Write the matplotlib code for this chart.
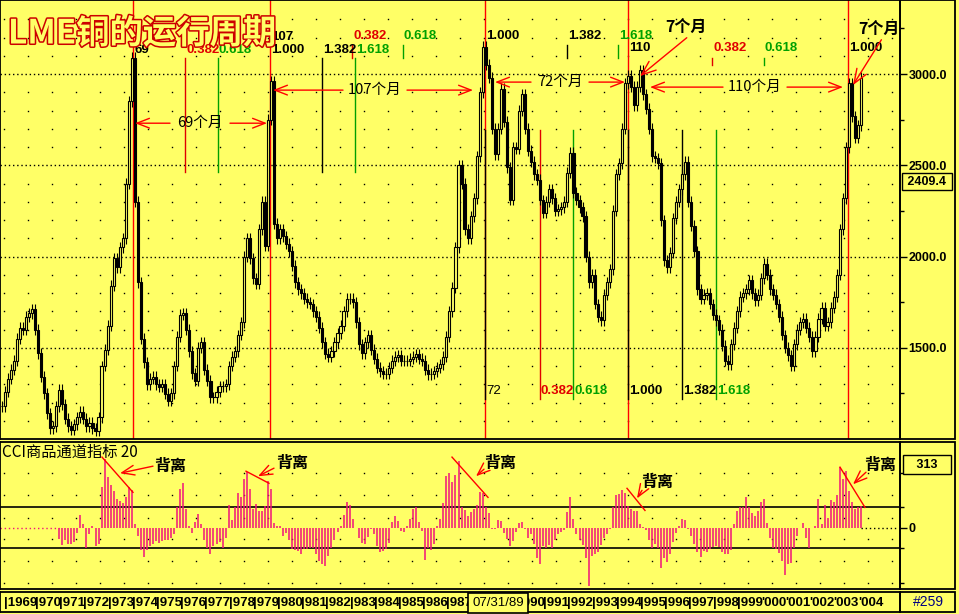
import numpy as np
import matplotlib
matplotlib.use('Agg')
import matplotlib.pyplot as plt
from matplotlib import patheffects as pe
from matplotlib.patches import Rectangle
from matplotlib.transforms import blended_transform_factory

plt.rcParams['font.family'] = ['Noto Sans CJK SC', 'DejaVu Sans']
NUM = ['Liberation Sans', 'DejaVu Sans']

BG = '#FFFF66'
PINK = '#F0147A'
FRED = '#E00000'
FGREEN = '#00A000'

# ---- data: LME copper, one bar every 1/8 year from 1968.625 ----
start = 1968.625
step = 1 / 8
close = [1180, 1260, 1330, 1380, 1430, 1550, 1610, 1600,
         1670, 1690, 1710, 1600, 1470, 1340, 1250, 1140,
         1060, 1070, 1180, 1270, 1190, 1110, 1070, 1050,
         1080, 1120, 1150, 1110, 1070, 1090, 1060, 1045,
         1120, 1400, 1490, 1620, 1840, 1990, 1940, 2050,
         2100, 2400, 2850, 3090, 2300, 1860, 1550, 1420,
         1300, 1330, 1340, 1300, 1285, 1300, 1247, 1210,
         1250, 1400, 1560, 1680, 1690, 1600, 1480, 1360,
         1320, 1500, 1530, 1380, 1320, 1230, 1230, 1260,
         1290, 1290, 1300, 1400, 1450, 1480, 1570, 1640,
         2000, 2100, 1990, 1880, 1850, 2150, 2300, 2060,
         2750, 2960, 2180, 2100, 2150, 2110, 2070, 2030,
         1950, 1860, 1820, 1800, 1770, 1750, 1740, 1700,
         1670, 1610, 1530, 1467, 1450, 1480, 1530, 1580,
         1620, 1700, 1770, 1770, 1750, 1640, 1520, 1470,
         1530, 1570, 1490, 1440, 1390, 1370, 1357, 1357,
         1390, 1430, 1450, 1460, 1430, 1430, 1430, 1440,
         1450, 1465, 1440, 1430, 1380, 1355, 1357, 1370,
         1390, 1410, 1450, 1560, 1700, 1830, 2050, 2500,
         2400, 2150, 2100, 2220, 2320, 2550, 2900, 3150,
         3050, 2980, 2700, 2560, 2700, 2920, 2740, 2490,
         2310, 2600, 2590, 2800, 2890, 2700, 2580, 2520,
         2450, 2420, 2310, 2240, 2300, 2370, 2320, 2250,
         2260, 2270, 2300, 2460, 2570, 2350, 2310, 2270,
         2220, 2000, 1860, 1900, 1740, 1670, 1650, 1790,
         1860, 1930, 2250, 2450, 2510, 2700, 2950, 2990,
         2930, 2830, 2930, 3020, 2890, 2810, 2700, 2550,
         2540, 2510, 2200, 1980, 1940, 2020, 2210, 2300,
         2370, 2450, 2520, 2300, 2170, 2030, 1820, 1770,
         1790, 1800, 1740, 1680, 1650, 1600, 1510, 1430,
         1410, 1520, 1610, 1700, 1780, 1800, 1820, 1870,
         1800, 1760, 1790, 1880, 1960, 1900, 1820, 1790,
         1740, 1670, 1570, 1500, 1460, 1400, 1520, 1600,
         1640, 1660, 1610, 1560, 1480, 1560, 1660, 1720,
         1620, 1640, 1720, 1780, 1900, 2150, 2320, 2600,
         2950, 2770, 2650, 2720, 2980]

# CCI(20): first 19 bars have no value
cci = [np.nan] * 19 + [
    -58, -85, -60, -80, -83, -70, -25, 60, 20, -100, -30, 10, -90, -80,
    200, 340, 250, 210, 180, 140, 130, 120, 150, 200, 185, 20, -40, -110,
    -145, -110, -90, -80, -67, -75, -67, -60, -60, -50, -30, 100, 190, 220,
    90, 10, -25, 30, 67, 20, -60, -100, -133, -92, -80, -70, -100, -50,
    112, 40, 100, 170, 150, 240, 275, 190, 92, 117, 83, 80, 108, 233,
    190, 25, 10, 8, -40, -25, -60, -108, -110, -117, -130, -105, -105, -100,
    -100, -133, -165, -180, -192, -142, -100, -60, -20, 10, 60, 128, 110, 42,
    0, -50, -75, -80, -45, -5, -30, -90, -120, -118, -105, -75, 30, 58,
    35, -15, -20, 10, 45, 90, 100, 30, -17, -160, -100, -110, -80, 10,
    45, 120, 258, 270, 225, 260, 333, 100, 85, 58, 78, 90, 110, 178,
    170, 100, 70, -5, -5, 40, 35, -25, -58, -90, -65, -20, 25, 30,
    -8, -50, -30, -80, -150, -183, -92, -100, -85, -100, -60, -30, -20, -10,
    75, 150, 42, -30, -60, -85, -150, -290, -140, -130, -120, -85, -50, -30,
    -8, 100, 160, 165, 185, 170, 108, 92, 80, 80, 17, 5, -10, -60,
    -100, -80, -100, -200, -150, -170, -133, -70, -25, 10, 45, 40, -5, -40,
    -80, -120, -145, -115, -120, -108, -95, -92, -95, -120, -130, -130, -110, 20,
    80, 100, 100, 150, 100, 70, 58, 80, 125, 140, 25, -50, -100, -105,
    -125, -165, -233, -183, -175, -100, -42, 0, 25, -50, -100, 0, 8, 140,
    17, 110, 50, 135, 125, 160, 300, 240, 283, 180, 125, 90, 100, 108]

cycle_tops = [1974.05, 1979.71, 1988.60, 1994.50, 2003.60]
fib_ratios = [0.382, 0.618, 1.0, 1.382, 1.618]

t = start + step * np.arange(len(close))
close = np.array(close, dtype=float)
opn = np.r_[close[0], close[:-1]]
cci = np.array(cci, dtype=float)


# reference pixel -> data helpers (annotations only)
def tx(x):
    return 1970 + (x - 35) / 24.2


def py(y):
    return 3000 - (y - 74) / 0.182


def cy(y):
    return (527 - y) * 5


def fib_color(r):
    return {0.382: FRED, 0.618: FGREEN, 1.618: FGREEN}.get(r, 'black')


W, H = 959, 614
fig = plt.figure(figsize=(W / 100, H / 100), dpi=100, facecolor=BG)


def fax(x0, y0, x1, y1):
    a = fig.add_axes([x0 / W, 1 - y1 / H, (x1 - x0) / W, (y1 - y0) / H])
    a.set_facecolor(BG)
    for s in a.spines.values():
        s.set_linewidth(1.3)
    return a


ax = fax(0, 0, 900, 439)
cax = fax(0, 442, 900, 589)
sax = fax(0, 592, 900, 612)
xlim = (tx(0), tx(900))

# ---------------- price panel ----------------
ax.set_xlim(*xlim)
ax.set_ylim(1000, 3406)
cols = np.arange(tx(4), xlim[1], 24 / 24.2)
rows = [p for p in range(1100, 3400, 100) if p % 500]
gx, gy = np.meshgrid(cols, rows)
ax.plot(gx.ravel(), gy.ravel(), ls='none', marker='s', ms=1.0, mew=0, color='black', zorder=0)
for p in [1500, 2000, 2500, 3000]:
    ax.axhline(p, color='black', ls=(0, (1, 2)), lw=1, zorder=0)

for d in cycle_tops:
    ax.axvline(d, color='red', lw=1, zorder=1)

wick = 30
hi = np.maximum(opn, close) + wick
lo = np.minimum(opn, close) - wick
ax.vlines(t, lo, hi, color='black', lw=0.8, zorder=3)
up = close >= opn
ax.bar(t[up], (close - opn)[up], bottom=opn[up], width=step * 0.7,
       color=BG, edgecolor='black', lw=0.8, zorder=4)
ax.bar(t[~up], (opn - close)[~up], bottom=close[~up], width=step * 0.7,
       color='black', edgecolor='black', lw=0.8, zorder=4)

ax.set_xticks([])
ax.yaxis.tick_right()
ax.set_yticks([1500, 2000, 2500, 3000])
ax.set_yticklabels(['%.1f' % v for v in [1500, 2000, 2500, 3000]],
                   fontfamily=NUM, fontweight='bold', fontsize=9)
ax.set_yticks([1250, 1750, 2250, 2750, 3250], minor=True)
ax.tick_params(axis='y', which='major', length=5, width=1, pad=1)
ax.tick_params(axis='y', which='minor', length=3, width=1)

numkw = dict(fontfamily=NUM, fontweight='bold', fontsize=9.5, va='center', ha='left', zorder=6)
dx = 1 / 24.2

# Fibonacci time set A: 1974 -> 1979
b, s = cycle_tops[0], cycle_tops[1] - cycle_tops[0]
for r in [0.382, 0.618, 1.382, 1.618]:
    ax.plot([b + r * s] * 2, [py(58), py(172)], color=fib_color(r), lw=1, zorder=2)
for r in fib_ratios:
    ax.text(b + r * s + dx, py(50), '%.3f' % r, color=fib_color(r), **numkw)
ax.text(b + dx, py(50), '69', color='black', **numkw)
ax.text(b + s + dx, py(37), '107', color='black', **numkw)

# set B: 1979 -> 1988
b, s = cycle_tops[1], cycle_tops[2] - cycle_tops[1]
for r in [0.382, 0.618, 1.382, 1.618]:
    ax.plot([b + r * s] * 2, [py(45), py(58)], color=fib_color(r), lw=1, zorder=2)
for r in fib_ratios:
    ax.text(b + r * s + dx, py(36), '%.3f' % r, color=fib_color(r), **numkw)

# set C: 1988 -> 1994 (lower)
b, s = cycle_tops[2], cycle_tops[3] - cycle_tops[2]
for r in [0.0] + fib_ratios:
    ax.plot([b + r * s] * 2, [py(130), py(398)], color=fib_color(r), lw=1, zorder=2)
    lab = '72' if r == 0 else '%.3f' % r
    ax.text(b + r * s + dx, py(390), lab, color=fib_color(r),
            **dict(numkw, fontweight='normal' if r == 0 else 'bold'))

# set D: 1994 -> 2003
b, s = cycle_tops[3], cycle_tops[4] - cycle_tops[3]
for r in [0.382, 0.618]:
    ax.plot([b + r * s] * 2, [py(58), py(65)], color=fib_color(r), lw=1, zorder=2)
for r in [0.382, 0.618, 1.0]:
    ax.text(b + r * s + dx, py(48), '%.3f' % r, color=fib_color(r), **numkw)
ax.text(b + dx, py(48), '110', color='black', **numkw)

# cycle span arrows
akw = dict(arrowstyle='->,head_length=0.9,head_width=0.35', color='red', lw=1,
           shrinkA=0, shrinkB=0)


def span_arrow(label, xc, y, half, xl, xr):
    ax.text(tx(xc), py(y), label, ha='center', va='center', fontsize=10.5, zorder=7)
    ax.annotate('', xy=(tx(xl), py(y)), xytext=(tx(xc - half), py(y)), arrowprops=akw, zorder=7)
    ax.annotate('', xy=(tx(xr), py(y)), xytext=(tx(xc + half), py(y)), arrowprops=akw, zorder=7)


span_arrow('69个月', 200, 123, 30, 135, 267)
span_arrow('107个月', 375, 90, 32, 273, 473)
span_arrow('72个月', 560, 82, 29, 495, 625)
span_arrow('110个月', 755, 87, 32, 650, 843)

for xt, yt, xa, ya in [(686, 27, 640, 76), (879, 29, 853, 85)]:
    ax.annotate('7个月', xy=(tx(xa), py(ya)), xytext=(tx(xt), py(yt)),
                ha='center', va='center', fontsize=11.5, fontweight='bold', zorder=7,
                arrowprops=dict(akw, relpos=(0.6, 0.0)))

ax.text(1.0 + 27 / 900, 2409.4, ' 2409.4 ', transform=blended_transform_factory(ax.transAxes, ax.transData),
        ha='center', va='center', fontfamily=NUM, fontweight='bold', fontsize=9, clip_on=False,
        bbox=dict(boxstyle='square,pad=0.2', fc=BG, ec='black', lw=1))

# hollow red-outlined title drawn over the chart
fig.text(8 / W, 1 - 34 / H, 'LME铜的运行周期', fontsize=24, fontweight='bold', color=BG,
         va='center', ha='left', zorder=10,
         path_effects=[pe.withStroke(linewidth=2.2, foreground='#CC0000')])

# ---------------- CCI panel ----------------
cax.set_xlim(*xlim)
cax.set_ylim(-305, 425)
crow = [270, 160, 50, -55, -165, -275]
gx, gy = np.meshgrid(cols, crow)
cax.plot(gx.ravel(), gy.ravel(), ls='none', marker='s', ms=1.0, mew=0, color='black', zorder=0)
valid = ~np.isnan(cci)
cax.hlines(0, xlim[0], t[valid][0], color=PINK, ls=(0, (1, 2)), lw=1)
cax.hlines(0, t[-1], xlim[1], color='black', ls=(0, (1, 2)), lw=1)
cax.axhline(100, color='black', lw=1.2, zorder=1)
cax.axhline(-100, color='black', lw=1.2, zorder=1)
cax.vlines(t[valid], 0, cci[valid], color=PINK, lw=1.1, zorder=2)

cax.set_xticks([])
cax.yaxis.tick_right()
cax.set_yticks([0])
cax.set_yticklabels(['0'], fontfamily=NUM, fontweight='bold', fontsize=9)
cax.set_yticks([270, 100, -100, -275], minor=True)
cax.tick_params(axis='y', which='major', length=5, width=1, pad=1)
cax.tick_params(axis='y', which='minor', length=3, width=1)
cax.text(1.0 + 27 / 900, 313, '   313   ', transform=blended_transform_factory(cax.transAxes, cax.transData),
         ha='center', va='center', fontfamily=NUM, fontweight='bold', fontsize=9, clip_on=False,
         bbox=dict(boxstyle='square,pad=0.25', fc=BG, ec='black', lw=1))
cax.text(tx(2), cy(452), 'CCI商品通道指标 20', ha='left', va='center', fontsize=11, zorder=7)

rkw = dict(color='red', lw=1, zorder=6)
for (x0, y0, x1, y1), (xt, yt), (xa0, ya0, xa1, ya1) in [
        ((102, 457, 133, 492), (170, 466), (153, 466, 120, 473)),
        ((246, 471, 269, 483), (292, 463), (274, 468, 258, 476)),
        ((452, 457, 488, 497), (500, 463), (484, 469, 476, 476)),
        ((627, 488, 645, 510), (657, 482), (642, 490, 637, 498)),
        ((840, 467, 865, 507), (880, 465), (866, 472, 853, 484))]:
    cax.plot([tx(x0), tx(x1)], [cy(y0), cy(y1)], **rkw)
    cax.annotate('', xy=(tx(xa1), cy(ya1)), xytext=(tx(xa0), cy(ya0)), arrowprops=akw, zorder=7)
    cax.text(tx(xt), cy(yt), '背离', ha='center', va='center', fontsize=11.5, fontweight='bold', zorder=7)

# ---------------- date strip ----------------
sax.set_xlim(*xlim)
sax.set_ylim(0, 1)
sax.set_xticks([])
sax.set_yticks([])
years = list(range(1970, 2005))
skip = [1988, 1989]
skw = dict(fontfamily=NUM, fontweight='bold', fontsize=9.5, va='center', ha='left')
sax.text(tx(4), 0.45, '|1969', **skw)
for yr in years:
    if yr in skip:
        continue
    sep = "'" if yr >= 2000 else '|'
    sax.text(yr, 0.45, sep + str(yr)[1:], **skw)
sax.text(tx(498), 0.45, '07/31/89', ha='center', va='center', fontfamily=NUM, fontsize=9.5, zorder=5,
         bbox=dict(boxstyle='square,pad=0.3', fc=BG, ec='black', lw=1.2))

# right-hand frames
for y0, y1 in [(0, 439), (442, 589), (592, 612)]:
    fig.add_artist(Rectangle((900 / W, 1 - y1 / H), 55 / W, (y1 - y0) / H, transform=fig.transFigure,
                             fill=False, ec='black', lw=1.3))
fig.text(928 / W, 1 - 602 / H, '#259', color='#000080', fontsize=10, fontfamily=NUM,
         ha='center', va='center')

fig.savefig('out.png', dpi=100, facecolor=BG)
